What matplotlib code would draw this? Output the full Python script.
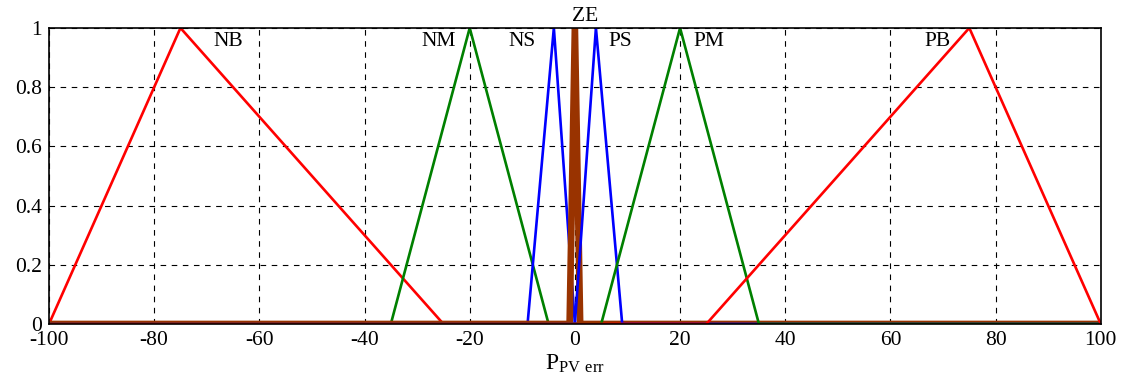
import numpy as np
import matplotlib
matplotlib.use("Agg")
import matplotlib.pyplot as plt

plt.rcParams['font.family'] = ['Liberation Serif', 'DejaVu Serif']
plt.rcParams['mathtext.fontset'] = 'custom'
plt.rcParams['mathtext.rm'] = 'Liberation Serif'

# Membership function definitions (triangle breakpoints a, b, c)
names = ['NB', 'NM', 'NS', 'ZE', 'PS', 'PM', 'PB']
tri_a = [-100, -35, -9, -1, 0, 5, 25]
tri_b = [-75, -20, -4, 0, 4, 20, 75]
tri_c = [-25, -5, 0, 1, 9, 35, 100]
colors = ['#ff0000', '#008000', '#0000ff', '#993300', '#0000ff', '#008000', '#ff0000']
widths = [1.9, 1.9, 1.9, 4.8, 1.9, 1.9, 1.9]

label_x = [-66, -26, -10, 2, 8.7, 25.5, 69]
label_y = [0.955, 0.955, 0.955, 1.04, 0.955, 0.955, 0.955]

xticks = [-100, -80, -60, -40, -20, 0, 20, 40, 60, 80, 100]
yticks = [0, 0.2, 0.4, 0.6, 0.8, 1]

fig = plt.figure(figsize=(11.29, 3.88), dpi=100)
ax = fig.add_axes([0.0434, 0.165, 0.9316, 0.763])

for a, b, c, col, lw in zip(tri_a, tri_b, tri_c, colors, widths):
    xs = [-100, a, b, c, 100]
    ys = [0, 0, 1, 0, 0]
    ax.plot(xs, ys, color=col, lw=lw, solid_joinstyle='round')

for n, lx, ly in zip(names, label_x, label_y):
    ax.text(lx, ly, n, fontsize=15.5, ha='center', va='center')

ax.set_xlim(-100, 100)
ax.set_ylim(0, 1)
ax.set_xticks(xticks)
ax.set_yticks(yticks)
ax.set_xticklabels([str(t) for t in xticks])
ax.set_yticklabels(['0', '0.2', '0.4', '0.6', '0.8', '1'])
ax.tick_params(length=0, labelsize=15.5, pad=5)
ax.grid(True, color='black', linestyle=(0, (5, 5)), linewidth=0.8)
ax.set_axisbelow(True)
for s in ax.spines.values():
    s.set_linewidth(1.2)
ax.set_xlabel(r'$\mathregular{P_{PV\ err}}$', fontsize=17, labelpad=2)

fig.savefig('out.png', dpi=100)
